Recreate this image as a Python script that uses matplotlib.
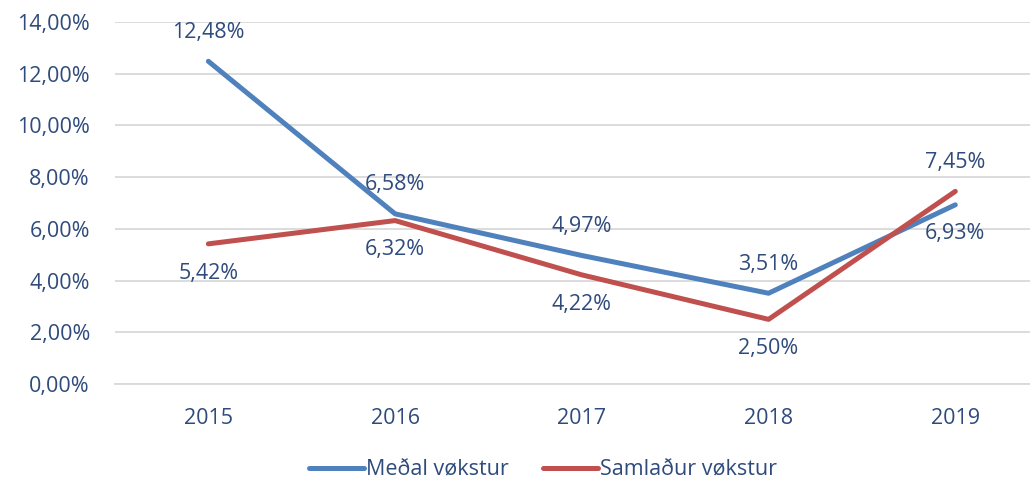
import numpy as np, matplotlib
matplotlib.use('Agg'); import matplotlib.pyplot as plt

TXT="#2F4B7C"; BLUE="#4F81BD"; RED="#C0504D"; GRID="#D9D9D9"
plt.rcParams.update({'font.family':['Open Sans','DejaVu Sans'],'font.size':15.5})

years=['2015','2016','2017','2018','2019']
medal=[12.48,6.58,4.97,3.51,6.93]
samlad=[5.42,6.32,4.22,2.50,7.45]
medal_pos=['a','a','a','a','b']
samlad_pos=['b','b','b','b','a']

fig=plt.figure(figsize=(10.30,4.84),dpi=100)
ax=fig.add_axes([115/1030,1-384/484,1-115/1030,(384-22)/484])
x=np.arange(len(years))
ax.plot(x,medal,color=BLUE,lw=3.6,solid_capstyle='round',label='Meðal vøkstur',zorder=3)
ax.plot(x,samlad,color=RED,lw=3.6,solid_capstyle='round',label='Samlaður vøkstur',zorder=3)

def fmt(v): return f"{v:.2f}%".replace('.',',')
for xs,vals,pos in [(x,medal,medal_pos),(x,samlad,samlad_pos)]:
    for xi,v,p in zip(xs,vals,pos):
        dy=21 if p=='a' else -21
        ax.annotate(fmt(v),(xi,v),xytext=(0,dy),textcoords='offset points',
                    ha='center',va='center',color=TXT,fontsize=15.5)

ax.set_ylim(0,14); ax.set_xlim(-0.5,4.4)
ax.set_yticks(np.arange(0,15,2))
ax.set_yticklabels([fmt(v) for v in np.arange(0,15,2)])
ax.set_xticks(x); ax.set_xticklabels(years)
ax.yaxis.grid(True,color=GRID,lw=1.3); ax.set_axisbelow(True)
for s in ['top','right','left']: ax.spines[s].set_visible(False)
ax.spines['bottom'].set_color(GRID); ax.spines['bottom'].set_linewidth(1.3)
ax.tick_params(length=0,colors=TXT,labelsize=15.5)
ax.tick_params(axis='y',pad=18); ax.tick_params(axis='x',pad=17)
fig.legend(loc='center',bbox_to_anchor=(543/1030,1-470/484),ncol=2,frameon=False,
           handlelength=2.55,handletextpad=0.1,columnspacing=1.6,labelcolor=TXT,fontsize=15.5)
fig.savefig("out.png",dpi=100)
